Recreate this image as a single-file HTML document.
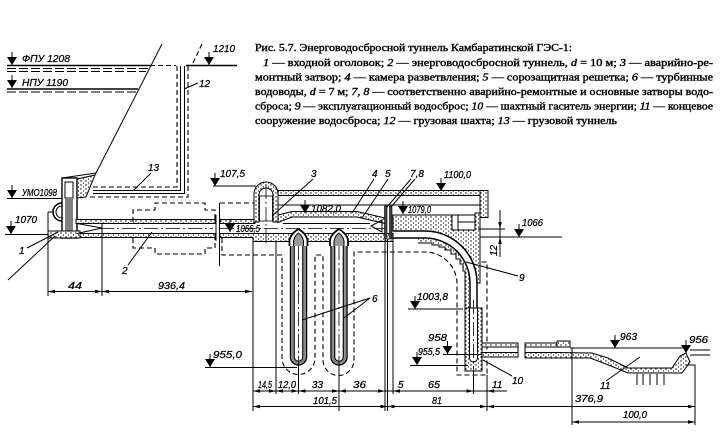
<!DOCTYPE html>
<html><head><meta charset="utf-8"><style>
html,body{margin:0;padding:0;background:#fff;}
svg{display:block;}
.l{stroke:#000;stroke-width:1;fill:none}
.t{stroke:#000;stroke-width:1.5;fill:none}
.d{stroke:#000;stroke-width:1.1;fill:none;stroke-dasharray:5 3}
.c{stroke:#000;stroke-width:.8;fill:none;stroke-dasharray:14 3 2 3}
.s{fill:url(#st);stroke:#000;stroke-width:1}
.n{font-family:"Liberation Sans",sans-serif;font-style:italic;font-size:10px;fill:#000;stroke:#000;stroke-width:.25}
.cap{font-family:"Liberation Serif","Noto Serif CJK SC",serif;font-size:10.5px;fill:#000;stroke:#000;stroke-width:.4}
</style></head><body>
<svg width="726" height="440" viewBox="0 0 726 440" xmlns="http://www.w3.org/2000/svg">
<defs>
<pattern id="st" width="5" height="4" patternUnits="userSpaceOnUse">
<rect width="5" height="4" fill="#fff"/>
<circle cx="1" cy="1" r=".7" fill="#000"/>
<circle cx="3.5" cy="3" r=".6" fill="#000"/>
</pattern>
<g id="ev"><path d="M0 -13 V0" stroke="#000" stroke-width="1"/><path d="M-5 -8 L5 -8 L0 0 Z" fill="#000"/></g>
</defs>

<!-- caption -->
<text class="cap" x="255" y="51" textLength="317" lengthAdjust="spacingAndGlyphs">Рис. 5.7. Энерговодосбросной туннель Камбаратинской ГЭС-1:</text>
<text class="cap" x="263" y="66" textLength="450" lengthAdjust="spacingAndGlyphs"><tspan font-style="italic">1</tspan> — входной оголовок; <tspan font-style="italic">2</tspan> — энерговодосбросной туннель, <tspan font-style="italic">d</tspan> = 10 м; <tspan font-style="italic">3</tspan> — аварийно-ре-</text>
<text class="cap" x="255" y="80.5" textLength="458" lengthAdjust="spacingAndGlyphs">монтный затвор; <tspan font-style="italic">4</tspan> — камера разветвления; <tspan font-style="italic">5</tspan> — сорозащитная решетка; <tspan font-style="italic">6</tspan> — турбинные</text>
<text class="cap" x="255" y="95" textLength="458" lengthAdjust="spacingAndGlyphs">водоводы, <tspan font-style="italic">d</tspan> = 7 м; <tspan font-style="italic">7, 8</tspan> — соответственно аварийно-ремонтные и основные затворы водо-</text>
<text class="cap" x="255" y="109.5" textLength="458" lengthAdjust="spacingAndGlyphs">сброса; <tspan font-style="italic">9</tspan> — эксплуатационный водосброс; <tspan font-style="italic">10</tspan> — шахтный гаситель энергии; <tspan font-style="italic">11</tspan> — концевое</text>
<text class="cap" x="255" y="124" textLength="362" lengthAdjust="spacingAndGlyphs">сооружение водосброса; <tspan font-style="italic">12</tspan> — грузовая шахта; <tspan font-style="italic">13</tspan> — грузовой туннель</text>

<!-- water levels top-left -->
<use href="#ev" x="12" y="65"/>
<text class="n" x="22" y="62" textLength="48" lengthAdjust="spacingAndGlyphs">ФПУ 1208</text>
<path class="t" d="M7 65.5 H150"/>
<path class="d" d="M7 68.5 H148 M7 71.5 H146" style="stroke-dasharray:9 3"/>
<path class="d" d="M150 65.5 H176"/>
<path class="t" d="M186 65.5 H237"/>
<use href="#ev" x="12" y="88"/>
<text class="n" x="22" y="86" textLength="46" lengthAdjust="spacingAndGlyphs">НПУ 1190</text>
<path class="t" d="M7 89 H138"/>
<path class="d" d="M7 92 H136" style="stroke-dasharray:9 3"/>
<use href="#ev" x="209" y="65"/>
<text class="n" x="213" y="52" textLength="22" lengthAdjust="spacingAndGlyphs">1210</text>
<path class="l" d="M162 44 L95 175"/>
<path class="d" d="M202 44 L192 65"/>

<!-- shaft 12 & tunnel 13 -->
<path class="d" d="M93 187 H177 V66"/>
<path class="l" d="M93 190.5 H180.5 V66"/>
<path class="l" d="M93 193.5 H184.5 V66"/>
<path class="d" d="M90 197 H188 V66"/>
<path class="l" d="M184 89 L198 83"/>
<text class="n" x="199" y="87">12</text>
<path class="l" d="M151 173 L134 190"/>
<text class="n" x="148" y="171">13</text>

<!-- inlet 1 -->
<use href="#ev" x="12" y="198"/>
<text class="n" x="22" y="196" textLength="35" lengthAdjust="spacingAndGlyphs">УМО1098</text>
<path class="l" d="M7 198.5 H62"/>
<use href="#ev" x="11" y="234"/>
<text class="n" x="15" y="223" textLength="22" lengthAdjust="spacingAndGlyphs">1070</text>
<path class="l" d="M5 234.5 H48"/>
<path class="l" d="M62 178 L96 173"/>
<polygon class="s" points="77,179 95,175 86,197 77,198"/>
<rect x="62" y="178" width="15" height="60" fill="#fff" stroke="#000" stroke-width="1.4"/>
<rect x="65" y="182" width="8" height="16" fill="#fff" stroke="#000"/>
<path d="M66 199 V236 M68 199 V236 M70 199 V236 M72 199 V236" stroke="#000" stroke-width="1"/>
<path class="t" d="M62 203 A9 9 0 0 0 62 221"/>
<path class="l" d="M62 206 A6 6 0 0 0 62 218"/>
<rect class="s" x="48" y="231" width="32" height="7"/>
<path class="l" d="M48 212 V296 M48 212 H54"/>
<path class="l" d="M8 280 L55 236"/>
<path class="l" d="M27 248 L58 232"/>
<text class="n" x="19" y="254">1</text>

<!-- tunnel 2 -->
<rect class="s" x="76" y="219.5" width="139" height="4"/>
<rect class="s" x="80" y="233.5" width="135" height="4"/>
<path class="l" d="M77 223.5 L102 228 L77 233.5"/>
<path class="c" d="M100 228.5 H213"/>
<path class="l" d="M216 215 V241"/>
<path class="d" d="M133 222 V210 H155 V203 H205 V210 H215 V219"/>
<path class="d" d="M133 238 V248 H155 V254 H205 V248 H215 V238"/>
<path class="l" d="M128 265 L152 232"/>
<text class="n" x="122" y="274">2</text>
<path class="l" d="M102 223 V296"/>

<!-- right of break -->
<path class="l" d="M219.5 203 V266"/>
<path class="d" d="M220 203 H254"/>
<rect class="s" x="220" y="219.5" width="35" height="4"/>
<path class="s" d="M220 233.5 H393 V241.5 H253 V237.5 H220 Z"/>
<use href="#ev" x="230" y="232"/>
<text class="n" x="236" y="232" textLength="24" lengthAdjust="spacingAndGlyphs">1066,5</text>

<!-- dashed outlines -->
<path class="d" d="M222 238 V255 H282 V358 A16.5 16.5 0 0 0 315 358 V255 H323 V360 A15.5 15.5 0 0 0 354 360 V252 H425 A32 32 0 0 1 457 284 V375 H487 V262 H481"/>

<!-- gate 3 dome -->
<use href="#ev" x="215" y="186"/>
<text class="n" x="220" y="177" textLength="25" lengthAdjust="spacingAndGlyphs">107,5</text>
<path class="l" d="M213 186 H256"/>
<path class="s" d="M254 222 V194 A12 12 0 0 1 278 194 V222 H273 V195 A7 7 0 0 0 259 195 V222 Z"/>
<rect x="259.5" y="196" width="13" height="25" fill="#fff" stroke="#000" stroke-width=".8"/>
<path class="c" d="M266 185 V244"/>

<!-- roof / corridor -->
<rect class="s" x="278" y="190.5" width="210" height="5"/>
<rect class="s" x="480" y="190.5" width="8" height="27"/>
<path class="l" d="M278 205 H480"/>
<use href="#ev" x="441" y="191"/>
<text class="n" x="444" y="178" textLength="27" lengthAdjust="spacingAndGlyphs">1100,0</text>

<!-- chamber 4 -->
<polygon class="s" points="278,215 292,211.5 357,211.5 385,218 385,223.5 357,217 292,217 278,222.5"/>
<path class="l" d="M283 223.5 H370"/>
<path class="c" d="M220 228.5 H385"/>
<use href="#ev" x="305" y="213"/>
<text class="n" x="311" y="212" textLength="30" lengthAdjust="spacingAndGlyphs">1082,0</text>

<!-- penstocks 6 -->
<g transform="translate(298.5,0)">
<path d="M-8 240 V357 A8 8 0 0 0 8 357 V240" stroke="#000" stroke-width="1.4" fill="none"/>
<path d="M-6.2 240 V357 A6.2 6.2 0 0 0 6.2 357 V240" stroke="#888" stroke-width="2.2" fill="none"/>
<path d="M-4.3 240 V357 A4.3 4.3 0 0 0 4.3 357 V240" stroke="#000" stroke-width="1.2" fill="none"/>
<path d="M-9 246 V240 Q-8 234 0 229 Q8 234 9 240 V246" fill="#fff" stroke="#000" stroke-width="1.8"/>
<path d="M-5 246 V241 Q-4 236 0 233 Q4 236 5 241 V246" fill="#999" stroke="#000" stroke-width="1"/>
</g>
<g transform="translate(339,0)">
<path d="M-8 240 V357 A8 8 0 0 0 8 357 V240" stroke="#000" stroke-width="1.4" fill="none"/>
<path d="M-6.2 240 V357 A6.2 6.2 0 0 0 6.2 357 V240" stroke="#888" stroke-width="2.2" fill="none"/>
<path d="M-4.3 240 V357 A4.3 4.3 0 0 0 4.3 357 V240" stroke="#000" stroke-width="1.2" fill="none"/>
<path d="M-9 246 V240 Q-8 234 0 229 Q8 234 9 240 V246" fill="#fff" stroke="#000" stroke-width="1.8"/>
<path d="M-5 246 V241 Q-4 236 0 233 Q4 236 5 241 V246" fill="#999" stroke="#000" stroke-width="1"/>
</g>
<path class="c" d="M298.5 246 V370 M339 246 V370"/>
<path class="l" d="M370 298 L302 320 M370 298 L344 318"/>
<text class="n" x="372" y="302">6</text>

<!-- grille 5, gates 7,8 -->
<path class="l" d="M382 220 L371 226 L382 232 Z"/>
<rect x="384.5" y="206" width="2.5" height="33" fill="#444" stroke="#000" stroke-width=".6"/>
<rect x="389.5" y="206" width="2.5" height="33" fill="#444" stroke="#000" stroke-width=".6"/>
<path class="l" d="M313 179 L272 216"/>
<text class="n" x="311" y="177">3</text>
<path class="l" d="M374 179 L352 213"/>
<text class="n" x="372" y="177">4</text>
<path class="l" d="M388 179 L362 218"/>
<text class="n" x="385" y="177">5</text>
<path class="l" d="M411 179 L387 207 M415 179 L391 207"/>
<text class="n" x="410" y="177">7,8</text>

<!-- spillway 9 -->
<path class="s" d="M393 215 H452 V230 H475 V213 H480 V283 H477 A52 52 0 0 0 425 231 H393 Z"/>
<rect x="452" y="215" width="23" height="15" fill="#fff" stroke="#000"/>
<path class="l" d="M458 215 V230 M458 222 H475"/>
<use href="#ev" x="403" y="214"/>
<text class="n" x="408" y="213" textLength="23" lengthAdjust="spacingAndGlyphs">1079,0</text>
<path d="M418 238 H425 A45 45 0 0 1 470 283 V308 H465 V271 H463 V264 H460 V259 H456 V254 H451 V250 H445 V247 H439 V245 H432 V243 H418 Z" fill="url(#st)"/>
<path class="t" d="M393 231 H425 A52 52 0 0 1 477 283 V308"/>
<path class="t" d="M393 238 H425 A45 45 0 0 1 470 283 V308"/>
<path class="l" d="M418 243 H432 V245 H439 V247 H445 V250 H451 V254 H456 V259 H460 V264 H463 V271 H465 V308"/>
<path class="l" d="M466 262 L518 276"/>
<text class="n" x="519" y="281">9</text>

<!-- 1066 & 12 -->
<use href="#ev" x="519" y="237"/>
<text class="n" x="522" y="226" textLength="21" lengthAdjust="spacingAndGlyphs">1066</text>
<path class="l" d="M480 237 H562 M478 229 H505 M500 210 V257"/>
<path d="M500 229 l-1.8 -7 h3.6z M500 237 l-1.8 7 h3.6z" fill="#000"/>
<text class="n" transform="translate(497,256) rotate(-90)">12</text>

<!-- shaft 10 -->
<rect class="s" x="465" y="308" width="17" height="63"/>
<path d="M469.5 308 V358 A4 4 0 0 0 477.5 358 V308 Z" fill="#fff" stroke="#000"/>
<path class="c" d="M473.5 300 V372"/>
<path class="l" d="M483 360 L512 376"/>
<text class="n" x="512" y="384">10</text>

<!-- elevations near shaft -->
<use href="#ev" x="415" y="309"/>
<text class="n" x="417" y="300" textLength="31" lengthAdjust="spacingAndGlyphs">1003,8</text>
<path class="l" d="M408 309 H463"/>
<use href="#ev" x="447.5" y="354"/>
<text class="n" x="428" y="341" textLength="19" lengthAdjust="spacingAndGlyphs">958</text>
<path class="l" d="M443 354.5 H482"/>
<use href="#ev" x="417" y="365"/>
<text class="n" x="418" y="355" textLength="22" lengthAdjust="spacingAndGlyphs">955,5</text>
<path class="l" d="M410 365.5 H468"/>
<use href="#ev" x="210" y="367"/>
<text class="n" x="213" y="358" textLength="29" lengthAdjust="spacingAndGlyphs">955,0</text>
<path class="l" d="M205 367.5 H297"/>

<!-- outlet & basin 11 -->
<rect class="s" x="482" y="343" width="36" height="4"/>
<rect class="s" x="482" y="352.5" width="36" height="4.5"/>
<rect class="s" x="525" y="343" width="32" height="4"/>
<rect class="s" x="557" y="341" width="13" height="6"/>
<path class="l" d="M518 343 V357 M525 343 V357"/>
<path class="s" d="M525 352.5 H557 L592 353 L608 358 L628 368 H672 L680 356 L686 353 L690 362 L682 373 H628 L606 364 L590 358 H525 Z"/>
<path class="l" d="M570 348 H683"/>
<path class="l" d="M686 365 H695 V425 M690 350 H710 M690 355 H710"/>
<path class="l" d="M637 374 V385 M643 374 V385 M650 374 V385 M657 374 V385 M664 374 V385"/>
<use href="#ev" x="615" y="348"/>
<text class="n" x="620" y="340" textLength="17" lengthAdjust="spacingAndGlyphs">963</text>
<use href="#ev" x="686" y="353"/>
<text class="n" x="689" y="343" textLength="19" lengthAdjust="spacingAndGlyphs">956</text>
<path class="l" d="M606 381 L640 357"/>
<text class="n" x="600" y="389">11</text>

<!-- extension lines -->
<path class="l" d="M253 238 V411 M276 242 V394 M298.5 365 V394 M339 365 V411 M385 239 V411 M387.5 239 V411 M393 241 V394 M473.5 371 V394 M487 375 V411 M572 348 V425"/>

<!-- dimension row a -->
<path class="l" d="M48 291.5 H252"/>
<path d="M48 291.5 l7 -1.8 v3.6z M102 291.5 l-7 -1.8 v3.6z M102 291.5 l7 -1.8 v3.6z M252 291.5 l-7 -1.8 v3.6z" fill="#000"/>
<text class="n" x="68" y="289" textLength="14" lengthAdjust="spacingAndGlyphs">44</text>
<text class="n" x="158" y="289" textLength="27" lengthAdjust="spacingAndGlyphs">936,4</text>

<!-- dimension row b -->
<path class="l" d="M253 391 H507"/>
<path d="M253 391 l7 -1.8 v3.6z M276 391 l-7 -1.8 v3.6z M276 391 l7 -1.8 v3.6z M298.5 391 l-7 -1.8 v3.6z M298.5 391 l7 -1.8 v3.6z M339 391 l-7 -1.8 v3.6z M339 391 l7 -1.8 v3.6z M385 391 l-7 -1.8 v3.6z M393 391 l7 -1.8 v3.6z M473.5 391 l-7 -1.8 v3.6z M487 391 l7 -1.8 v3.6z" fill="#000"/>
<text class="n" x="258" y="388" textLength="14" lengthAdjust="spacingAndGlyphs">14,5</text>
<text class="n" x="278" y="388" textLength="18" lengthAdjust="spacingAndGlyphs">12,0</text>
<text class="n" x="312" y="388" textLength="11" lengthAdjust="spacingAndGlyphs">33</text>
<text class="n" x="353" y="388" textLength="13" lengthAdjust="spacingAndGlyphs">36</text>
<text class="n" x="398" y="388">5</text>
<text class="n" x="428" y="388" textLength="12" lengthAdjust="spacingAndGlyphs">65</text>
<text class="n" x="492" y="388">11</text>

<!-- dimension row c -->
<path class="l" d="M253 406.5 H695"/>
<path d="M253 406.5 l7 -1.8 v3.6z M387.5 406.5 l-7 -1.8 v3.6z M387.5 406.5 l7 -1.8 v3.6z M487 406.5 l-7 -1.8 v3.6z M487 406.5 l7 -1.8 v3.6z M695 406.5 l-7 -1.8 v3.6z" fill="#000"/>
<text class="n" x="313" y="404" textLength="24" lengthAdjust="spacingAndGlyphs">101,5</text>
<text class="n" x="432" y="404" textLength="10" lengthAdjust="spacingAndGlyphs">81</text>
<text class="n" x="575" y="402" textLength="28" lengthAdjust="spacingAndGlyphs">376,9</text>

<!-- dimension row d -->
<path class="l" d="M572 422 H695"/>
<path d="M572 422 l7 -1.8 v3.6z M695 422 l-7 -1.8 v3.6z" fill="#000"/>
<text class="n" x="623" y="418" textLength="24" lengthAdjust="spacingAndGlyphs">100,0</text>
</svg>
</body></html>
